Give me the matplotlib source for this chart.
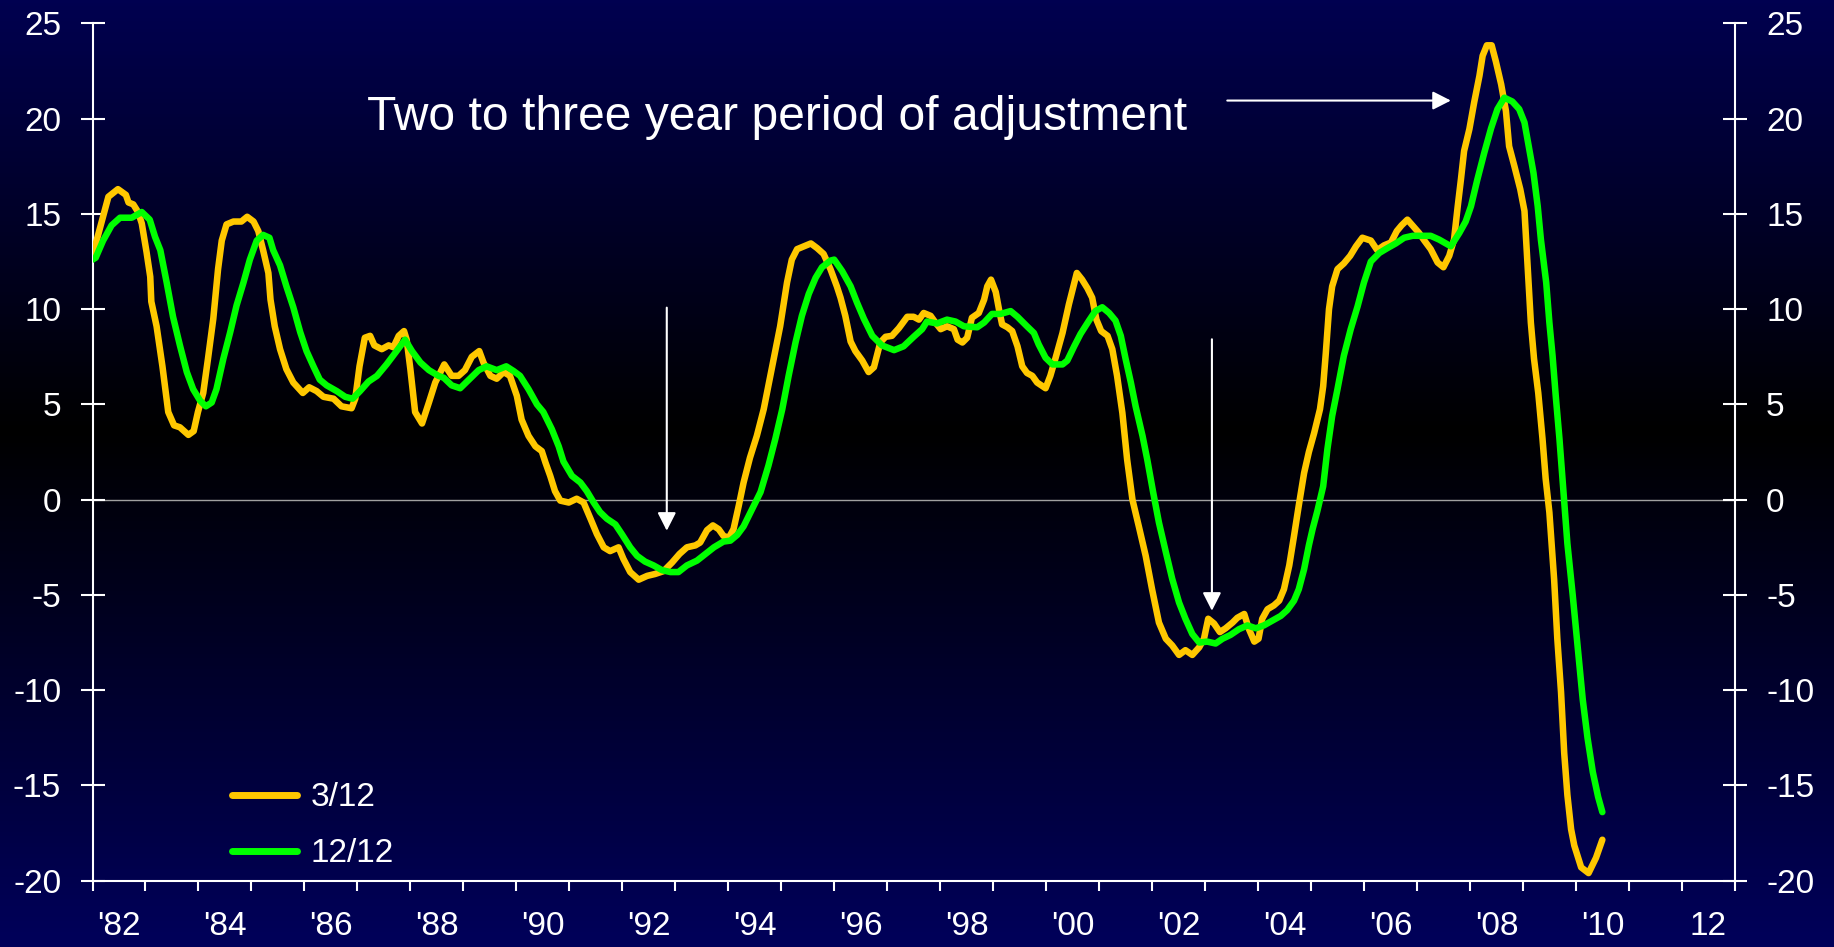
import numpy as np
import matplotlib
matplotlib.use('Agg')
import matplotlib.pyplot as plt
from matplotlib.colors import LinearSegmentedColormap

plt.rcParams['font.family'] = ['Liberation Sans', 'DejaVu Sans']

# 3/12 series (orange)
yrs_3 = [1982.00, 1982.30, 1982.48, 1982.63, 1982.68, 1982.77, 1982.86, 1982.93, 1983.02, 1983.09,
         1983.11, 1983.21, 1983.32, 1983.43, 1983.54, 1983.65, 1983.81, 1983.91, 1983.99, 1984.09,
         1984.18, 1984.28, 1984.37, 1984.44, 1984.53, 1984.66, 1984.81, 1984.92, 1985.04, 1985.13,
         1985.22, 1985.32, 1985.36, 1985.44, 1985.54, 1985.66, 1985.79, 1985.97, 1986.09, 1986.23,
         1986.36, 1986.55, 1986.70, 1986.89, 1986.96, 1987.04, 1987.14, 1987.24, 1987.32, 1987.46,
         1987.59, 1987.68, 1987.78, 1987.88, 1987.93, 1988.00, 1988.09, 1988.22, 1988.35, 1988.47,
         1988.64, 1988.78, 1988.91, 1989.03, 1989.16, 1989.30, 1989.38, 1989.51, 1989.63, 1989.76,
         1989.88, 1990.01, 1990.10, 1990.23, 1990.36, 1990.48, 1990.55, 1990.64, 1990.73, 1990.83,
         1990.99, 1991.14, 1991.27, 1991.40, 1991.52, 1991.65, 1991.77, 1991.93, 1992.02, 1992.15,
         1992.31, 1992.47, 1992.62, 1992.78, 1992.94, 1993.08, 1993.22, 1993.38, 1993.47, 1993.60,
         1993.71, 1993.82, 1993.91, 1994.01, 1994.10, 1994.20, 1994.29, 1994.41, 1994.54, 1994.67,
         1994.83, 1994.98, 1995.11, 1995.20, 1995.30, 1995.43, 1995.56, 1995.68, 1995.80, 1995.93,
         1996.05, 1996.12, 1996.21, 1996.31, 1996.40, 1996.53, 1996.65, 1996.75, 1996.87, 1996.97,
         1997.09, 1997.22, 1997.38, 1997.50, 1997.60, 1997.69, 1997.82, 1997.91, 1998.01, 1998.13,
         1998.26, 1998.33, 1998.42, 1998.51, 1998.60, 1998.73, 1998.83, 1998.89, 1998.96, 1999.05,
         1999.11, 1999.17, 1999.27, 1999.36, 1999.46, 1999.55, 1999.64, 1999.74, 1999.83, 1999.99,
         2000.08, 2000.18, 2000.31, 2000.43, 2000.58, 2000.68, 2000.78, 2000.87, 2000.95, 2001.04,
         2001.16, 2001.25, 2001.34, 2001.44, 2001.53, 2001.63, 2001.75, 2001.88, 2002.00, 2002.13,
         2002.26, 2002.38, 2002.51, 2002.63, 2002.76, 2002.89, 2002.98, 2003.06, 2003.17, 2003.28,
         2003.39, 2003.52, 2003.61, 2003.74, 2003.83, 2003.93, 2004.01, 2004.08, 2004.18, 2004.30,
         2004.40, 2004.49, 2004.59, 2004.68, 2004.77, 2004.87, 2004.96, 2005.06, 2005.17, 2005.23,
         2005.28, 2005.34, 2005.40, 2005.50, 2005.62, 2005.74, 2005.85, 2005.97, 2006.13, 2006.25,
         2006.38, 2006.51, 2006.62, 2006.71, 2006.82, 2006.93, 2007.04, 2007.14, 2007.26, 2007.39,
         2007.50, 2007.61, 2007.70, 2007.77, 2007.83, 2007.89, 2007.99, 2008.08, 2008.18, 2008.24,
         2008.32, 2008.41, 2008.49, 2008.59, 2008.68, 2008.74, 2008.84, 2008.95, 2009.03, 2009.09,
         2009.15, 2009.21, 2009.29, 2009.37, 2009.43, 2009.50, 2009.59, 2009.65, 2009.72, 2009.78,
         2009.84, 2009.91, 2009.97, 2010.10, 2010.24, 2010.38, 2010.50]
vals_3 = [12.8, 15.9, 16.3, 16.0, 15.6, 15.5, 15.1, 14.5, 13.0, 11.7,
          10.4, 9.1, 7.0, 4.6, 3.9, 3.8, 3.4, 3.6, 4.6, 5.6,
          7.4, 9.5, 12.1, 13.6, 14.45, 14.6, 14.6, 14.85, 14.6, 14.1,
          13.1, 11.9, 10.5, 9.1, 7.9, 6.85, 6.15, 5.6, 5.9, 5.7,
          5.4, 5.3, 4.9, 4.8, 5.3, 7.0, 8.5, 8.6, 8.1, 7.9,
          8.1, 8.0, 8.6, 8.85, 8.4, 6.85, 4.6, 4.0, 5.1, 6.15,
          7.1, 6.5, 6.5, 6.8, 7.5, 7.8, 7.2, 6.5, 6.35, 6.7,
          6.5, 5.45, 4.2, 3.35, 2.8, 2.55, 1.95, 1.25, 0.45, -0.05,
          -0.15, 0.05, -0.15, -1.0, -1.8, -2.5, -2.7, -2.5, -3.1, -3.8,
          -4.2, -4.0, -3.9, -3.75, -3.3, -2.85, -2.5, -2.4, -2.25, -1.6,
          -1.35, -1.55, -1.9, -2.0, -1.55, -0.3, 0.9, 2.2, 3.35, 4.75,
          7.0, 9.1, 11.4, 12.6, 13.15, 13.3, 13.45, 13.2, 12.9, 12.1,
          11.2, 10.6, 9.65, 8.3, 7.8, 7.3, 6.7, 6.95, 8.25, 8.55,
          8.6, 9.0, 9.6, 9.6, 9.45, 9.8, 9.65, 9.3, 8.95, 9.1,
          8.95, 8.4, 8.25, 8.5, 9.55, 9.8, 10.5, 11.2, 11.55, 10.9,
          10.0, 9.2, 9.05, 8.85, 8.05, 7.0, 6.65, 6.5, 6.15, 5.85,
          6.5, 7.45, 8.75, 10.25, 11.9, 11.55, 11.1, 10.6, 9.45, 8.85,
          8.6, 7.9, 6.5, 4.55, 2.1, 0.0, -1.4, -2.95, -4.7, -6.45,
          -7.3, -7.65, -8.15, -7.9, -8.15, -7.75, -7.3, -6.25, -6.5, -6.95,
          -6.75, -6.45, -6.2, -6.0, -6.8, -7.45, -7.3, -6.25, -5.75, -5.55,
          -5.3, -4.7, -3.45, -1.9, -0.3, 1.4, 2.5, 3.5, 4.75, 5.95,
          7.7, 10.0, 11.2, 12.1, 12.4, 12.8, 13.3, 13.75, 13.6, 13.1,
          13.35, 13.5, 14.1, 14.4, 14.7, 14.35, 14.0, 13.6, 13.15, 12.45,
          12.2, 12.8, 13.65, 15.4, 16.8, 18.3, 19.45, 20.85, 22.25, 23.3,
          23.85, 23.85, 23.0, 21.8, 20.4, 18.55, 17.5, 16.3, 15.15, 12.25,
          9.3, 7.4, 5.6, 3.2, 1.1, -0.67, -4.2, -7.3, -10.1, -13.3,
          -15.5, -17.3, -18.15, -19.3, -19.6, -18.8, -17.85]

# 12/12 series (green)
yrs_12 = [1982.00, 1982.06, 1982.20, 1982.36, 1982.52, 1982.74, 1982.93, 1983.08, 1983.18, 1983.28,
          1983.40, 1983.52, 1983.65, 1983.78, 1983.90, 1984.03, 1984.14, 1984.25, 1984.34, 1984.47,
          1984.60, 1984.72, 1984.85, 1984.97, 1985.10, 1985.22, 1985.34, 1985.41, 1985.54, 1985.66,
          1985.79, 1985.92, 1986.04, 1986.17, 1986.29, 1986.42, 1986.61, 1986.77, 1986.91, 1987.05,
          1987.21, 1987.37, 1987.55, 1987.74, 1987.90, 1988.03, 1988.19, 1988.35, 1988.53, 1988.63,
          1988.78, 1988.94, 1989.07, 1989.29, 1989.44, 1989.63, 1989.81, 1989.95, 1990.07, 1990.23,
          1990.39, 1990.51, 1990.67, 1990.80, 1990.89, 1991.05, 1991.21, 1991.33, 1991.46, 1991.58,
          1991.71, 1991.87, 1991.99, 1992.15, 1992.28, 1992.43, 1992.59, 1992.75, 1992.91, 1993.06,
          1993.22, 1993.41, 1993.57, 1993.73, 1993.91, 1994.04, 1994.17, 1994.29, 1994.45, 1994.61,
          1994.76, 1994.89, 1995.02, 1995.14, 1995.27, 1995.39, 1995.52, 1995.65, 1995.77, 1995.93,
          1996.00, 1996.15, 1996.31, 1996.43, 1996.56, 1996.72, 1996.90, 1997.13, 1997.31, 1997.50,
          1997.66, 1997.75, 1997.94, 1998.13, 1998.29, 1998.45, 1998.70, 1998.83, 1998.98, 1999.14,
          1999.33, 1999.46, 1999.64, 1999.77, 1999.86, 1999.99, 2000.12, 2000.31, 2000.40, 2000.53,
          2000.65, 2000.81, 2000.93, 2001.06, 2001.19, 2001.31, 2001.41, 2001.50, 2001.60, 2001.69,
          2001.82, 2001.91, 2002.02, 2002.13, 2002.26, 2002.38, 2002.51, 2002.63, 2002.76, 2002.89,
          2003.04, 2003.20, 2003.33, 2003.48, 2003.64, 2003.80, 2003.96, 2004.11, 2004.27, 2004.43,
          2004.55, 2004.68, 2004.77, 2004.87, 2004.96, 2005.03, 2005.12, 2005.23, 2005.31, 2005.40,
          2005.50, 2005.62, 2005.75, 2005.88, 2006.00, 2006.13, 2006.29, 2006.44, 2006.60, 2006.76,
          2006.92, 2007.07, 2007.26, 2007.42, 2007.64, 2007.80, 2007.92, 2008.02, 2008.14, 2008.27,
          2008.40, 2008.52, 2008.65, 2008.80, 2008.93, 2009.03, 2009.12, 2009.20, 2009.28, 2009.34,
          2009.44, 2009.50, 2009.56, 2009.62, 2009.69, 2009.75, 2009.84, 2009.94, 2010.03, 2010.13,
          2010.22, 2010.32, 2010.42, 2010.50]
vals_12 = [12.6, 12.7, 13.6, 14.4, 14.8, 14.8, 15.1, 14.7, 13.8, 13.1,
           11.4, 9.6, 8.1, 6.7, 5.8, 5.2, 4.9, 5.1, 5.8, 7.4,
           8.8, 10.2, 11.4, 12.6, 13.6, 13.9, 13.75, 13.1, 12.3, 11.2,
           10.1, 8.8, 7.8, 7.0, 6.3, 6.0, 5.7, 5.4, 5.3, 5.7,
           6.2, 6.5, 7.1, 7.8, 8.4, 7.8, 7.2, 6.8, 6.5, 6.4,
           6.0, 5.85, 6.2, 6.8, 7.0, 6.8, 7.0, 6.75, 6.5, 5.8,
           5.0, 4.6, 3.7, 2.8, 2.0, 1.25, 0.9, 0.45, -0.15, -0.65,
           -1.0, -1.3, -1.8, -2.5, -2.95, -3.25, -3.45, -3.7, -3.8, -3.8,
           -3.45, -3.2, -2.85, -2.5, -2.2, -2.15, -1.85, -1.4, -0.5, 0.4,
           1.8, 3.2, 4.75, 6.5, 8.25, 9.65, 10.8, 11.65, 12.2, 12.55,
           12.6, 12.0, 11.2, 10.35, 9.5, 8.6, 8.1, 7.85, 8.05, 8.55,
           8.95, 9.35, 9.25, 9.45, 9.35, 9.1, 9.05, 9.3, 9.75, 9.75,
           9.9, 9.6, 9.1, 8.75, 8.15, 7.45, 7.1, 7.1, 7.3, 8.05,
           8.7, 9.4, 9.9, 10.1, 9.8, 9.4, 8.6, 7.4, 6.15, 4.9,
           3.35, 2.1, 0.4, -1.2, -2.75, -4.15, -5.4, -6.25, -7.05, -7.5,
           -7.45, -7.55, -7.3, -7.1, -6.8, -6.6, -6.75, -6.6, -6.35, -6.1,
           -5.8, -5.3, -4.7, -3.65, -2.4, -1.55, -0.6, 0.7, 2.65, 4.4,
           5.8, 7.55, 8.95, 10.15, 11.4, 12.5, 12.95, 13.2, 13.45, 13.75,
           13.85, 13.85, 13.85, 13.65, 13.3, 14.0, 14.6, 15.4, 16.8, 18.2,
           19.5, 20.5, 21.1, 20.9, 20.5, 19.8, 18.4, 17.15, 15.4, 13.65,
           11.4, 9.3, 7.55, 5.45, 3.2, 1.0, -2.3, -5.0, -7.6, -10.5,
           -12.5, -14.3, -15.6, -16.4]

year_ticks = list(range(1982, 2014))
label_pos = [y + 0.5 for y in range(1982, 2013, 2)]
label_txt = ["'82", "'84", "'86", "'88", "'90", "'92", "'94", "'96", "'98", "'00",
             "'02", "'04", "'06", "'08", "'10", "12"]
y_ticks = [-20, -15, -10, -5, 0, 5, 10, 15, 20, 25]

ORANGE = '#FFC800'
GREEN = '#00FF00'

fig = plt.figure(figsize=(18.34, 9.47), dpi=100)

# navy -> black -> navy background
bg = fig.add_axes([0, 0, 1, 1], zorder=-1)
cmap = LinearSegmentedColormap.from_list('bg', [(0, '#000050'), (0.455, '#000000'), (1, '#00005a')])
bg.imshow(np.linspace(0, 1, 256).reshape(-1, 1), aspect='auto', cmap=cmap, extent=[0, 1, 0, 1])
bg.axis('off')

ax = fig.add_axes([92.5 / 1834, 1 - 880.7 / 947, 1642.3 / 1834, 857.3 / 947])
ax.set_facecolor('none')

ax.axhline(0, color='#a0a0a0', lw=1, zorder=1)
ax.plot(yrs_3, vals_3, color=ORANGE, lw=4.7, label='3/12', zorder=3, solid_capstyle='round')
ax.plot(yrs_12, vals_12, color=GREEN, lw=4.7, label='12/12', zorder=4, solid_capstyle='round')

ax.set_xlim(1982, 2013)
ax.set_ylim(-20, 25)

for s in ['left', 'right', 'bottom']:
    ax.spines[s].set_color('white')
    ax.spines[s].set_linewidth(1.5)
ax.spines['top'].set_visible(False)

ax.set_yticks(y_ticks)
ax.set_yticklabels([str(v) for v in y_ticks])
ax.tick_params(axis='y', which='major', direction='inout', length=17, width=1.5, color='white',
               labelcolor='white', labelsize=24, pad=14, left=True, right=True, labelright=True)

ax.set_xticks(year_ticks)
ax.set_xticklabels([])
ax.set_xticks(label_pos, minor=True)
ax.set_xticklabels(label_txt, minor=True)
ax.tick_params(axis='x', which='major', direction='out', length=7, width=1.5, color='white')
ax.tick_params(axis='x', which='minor', length=0, labelcolor='white', labelsize=24, pad=22)

# annotation and arrows
arrow_kw = dict(arrowstyle='-|>,head_length=0.55,head_width=0.28', color='white', lw=1.5,
                shrinkA=0, shrinkB=0, mutation_scale=20)
ax.annotate('', xy=(1992.84, -1.63), xytext=(1992.84, 10.08), arrowprops=arrow_kw)
ax.annotate('', xy=(2003.13, -5.83), xytext=(2003.13, 8.42), arrowprops=arrow_kw)
ax.annotate('', xy=(2007.64, 20.95), xytext=(2003.42, 20.95), arrowprops=arrow_kw)
ax.text(1987.19, 19.38, 'Two to three year period of adjustment', color='white', fontsize=34.6,
        ha='left', va='baseline')

leg = ax.legend(loc='center left', bbox_to_anchor=(0.085, 0.064), frameon=False, fontsize=24,
                handlelength=1.95, handletextpad=0.4, labelspacing=0.75, borderpad=0, borderaxespad=0)
for t in leg.get_texts():
    t.set_color('white')
for h in leg.get_lines():
    h.set_linewidth(5)
    h.set_solid_capstyle('round')

fig.savefig('out.png', dpi=100)
